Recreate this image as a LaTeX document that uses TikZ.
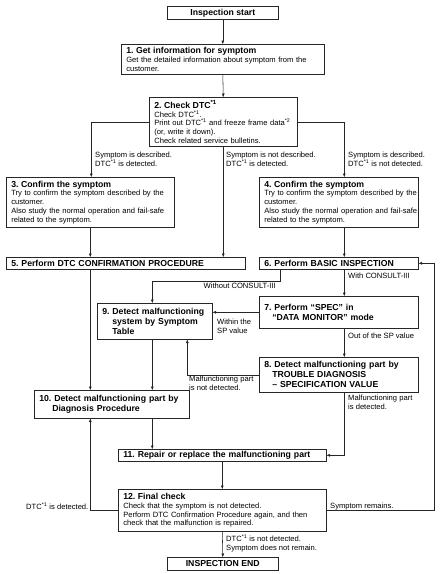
\documentclass[tikz,border=0pt]{standalone}
\usepackage{fontspec}
\setmainfont{Liberation Sans}
\frenchspacing
\usetikzlibrary{arrows.meta,calc}
\newcommand{\ttl}{\fontsize{8.7}{10}\selectfont\bfseries}
\newcommand{\sps}[1]{\textsuperscript{#1}}
\tikzset{
  box/.style={draw=black!85, line width=0.6pt, anchor=north west, inner xsep=5pt, inner ysep=1.5pt, align=left, font=\fontsize{7.6}{8.7}\selectfont\frenchspacing},
  tbox/.style={box, font=\ttl\frenchspacing},
  cbox/.style={draw=black!85, line width=0.6pt, anchor=north west, inner sep=0pt, align=center, font=\ttl},
  lbl/.style={anchor=north west, inner sep=0pt, align=left, font=\fontsize{7.6}{8.7}\selectfont\frenchspacing},
  conn/.style={draw=black!85, line width=0.55pt, -{Triangle[length=3.5pt,width=2.6pt]}},
}
\begin{document}
\begin{tikzpicture}[x=1pt,y=-1pt]
\useasboundingbox (0,0) rectangle (443,574);
% boxes
\node[cbox, minimum width=111pt, minimum height=13pt] (st) at (167,6) {Inspection start};
\node[box, text width=193pt, minimum height=30pt] (b1) at (121,44)
  {{\ttl 1. Get information for symptom}\\Get the detailed information about symptom from the\\customer.};
\node[box, text width=138pt, minimum height=49pt] (b2) at (149,97)
  {{\ttl 2. Check DTC\sps{*1}}\\Check DTC\sps{*1}.\\\mbox{Print out DTC\sps{*1} and freeze frame data\sps{*2}}\\(or, write it down).\\Check related service bulletins.};
\node[box, text width=158pt, minimum height=50pt] (b3) at (6,177)
  {{\ttl 3. Confirm the symptom}\\Try to confirm the symptom described by the\\customer.\\\mbox{Also study the normal operation and fail-safe}\\related to the symptom.};
\node[box, text width=149pt, minimum height=50pt] (b4) at (259,177)
  {{\ttl 4. Confirm the symptom}\\\mbox{Try to confirm the symptom described by the}\\customer.\\\mbox{Also study the normal operation and fail-safe}\\related to the symptom.};
\node[tbox, text width=229pt, minimum height=12pt] (b5) at (6,257) {5. Perform DTC CONFIRMATION PROCEDURE};
\node[tbox, text width=149pt, minimum height=12pt] (b6) at (259,257) {6. Perform BASIC INSPECTION};
\node[tbox, text width=149pt, minimum height=32pt] (b7) at (259,296)
  {7. Perform “SPEC” in\\\hspace*{8pt}“DATA MONITOR” mode};
\node[tbox, text width=149pt, minimum height=35pt] (b8) at (259,357)
  {8. Detect malfunctioning part by\\\hspace*{8pt}TROUBLE DIAGNOSIS\\\hspace*{8pt}– SPECIFICATION VALUE};
\node[tbox, text width=105pt, minimum height=36pt] (b9) at (97,303)
  {\mbox{9. Detect malfunctioning}\\\hspace*{10pt}system by Symptom\\\hspace*{10pt}Table};
\node[tbox, text width=145pt, minimum height=28pt] (b10) at (34,390)
  {\mbox{10. Detect malfunctioning part by}\\\hspace*{13pt}Diagnosis Procedure};
\node[tbox, text width=198pt, minimum height=12pt] (b11) at (118,449) {11. Repair or replace the malfunctioning part};
\node[box, text width=198pt, minimum height=42pt] (b12) at (118,489)
  {{\ttl 12. Final check}\\Check that the symptom is not detected.\\\mbox{Perform DTC Confirmation Procedure again, and then}\\check that the malfunction is repaired.};
\node[cbox, minimum width=111pt, minimum height=13pt] (en) at (167,557) {INSPECTION END};
% labels
\node[lbl] (l1) at (95,152) {Symptom is described.\\DTC\sps{*1} is detected.};
\node[lbl] (l2) at (226,152) {Symptom is not described.\\DTC\sps{*1} is detected.};
\node[lbl] (l3) at (348,152) {Symptom is described.\\DTC\sps{*1} is not detected.};
\node[lbl, anchor=north east] (l4) at (276,283) {Without CONSULT-III};
\node[lbl] (l5) at (348,273) {With CONSULT-III};
\node[lbl] (l6) at (217,319) {Within the\\SP value};
\node[lbl] (l7) at (348,333) {Out of the SP value};
\node[lbl] (l8) at (189,376) {Malfunctioning part\\is not detected.};
\node[lbl] (l9) at (348,395) {Malfunctioning part\\is detected.};
\node[lbl] (l10) at (26,503) {DTC\sps{*1} is detected.};
\node[lbl] (l11) at (330,503) {Symptom remains.};
\node[lbl] (l12) at (226,535) {DTC\sps{*1} is not detected.\\Symptom does not remain.};
% connectors
\draw[conn] (st.south) -- (b1.north);
\draw[conn] (b1.south) -- (b2.north);
\draw[conn] (b2.west) -| ([xshift=1pt]b3.north);
\draw[conn] (b2.east) -| ([xshift=5.5pt]b4.north);
\draw[conn] (b2.south) -- (b2.south |- b5.north);
\draw[conn] (b3.south) -- (b3.south |- b5.north);
\draw[conn] ([xshift=5.5pt]b4.south) -- ([xshift=5.5pt]b6.north);
\draw[conn] (b3.south |- b5.south) -- (b3.south |- b10.north);
\draw[conn] ([xshift=21pt]b6.south west) -- ++(0,12) -| ([xshift=-2.5pt]b9.north);
\draw[conn] ([xshift=5.5pt]b6.south) -- ([xshift=5.5pt]b7.north);
\draw[conn] (b7.west) -- (b9.east |- b7.west);
\draw[conn] ([xshift=5.5pt]b7.south) -- ([xshift=5.5pt]b8.north);
\draw[conn] (b8.west) -| ([xshift=32.5pt]b9.south);
\draw[conn] ([xshift=-2.5pt]b9.south) -- ([xshift=-2.5pt]b9.south |- b10.north);
\draw[conn] ([xshift=40.5pt]b10.south) -- ([xshift=40.5pt]b10.south |- b11.north);
\draw[conn] ([xshift=5.5pt]b8.south) |- (b11.east);
\draw[conn] (b11.south) -- (b12.north);
\draw[conn] (b12.west) -| ([xshift=-21.5pt]b10.south);
\draw[conn] (b12.east) -- ++(108,0) |- (b6.east);
\draw[conn] (b12.south) -- (en.north);
\end{tikzpicture}
\end{document}
